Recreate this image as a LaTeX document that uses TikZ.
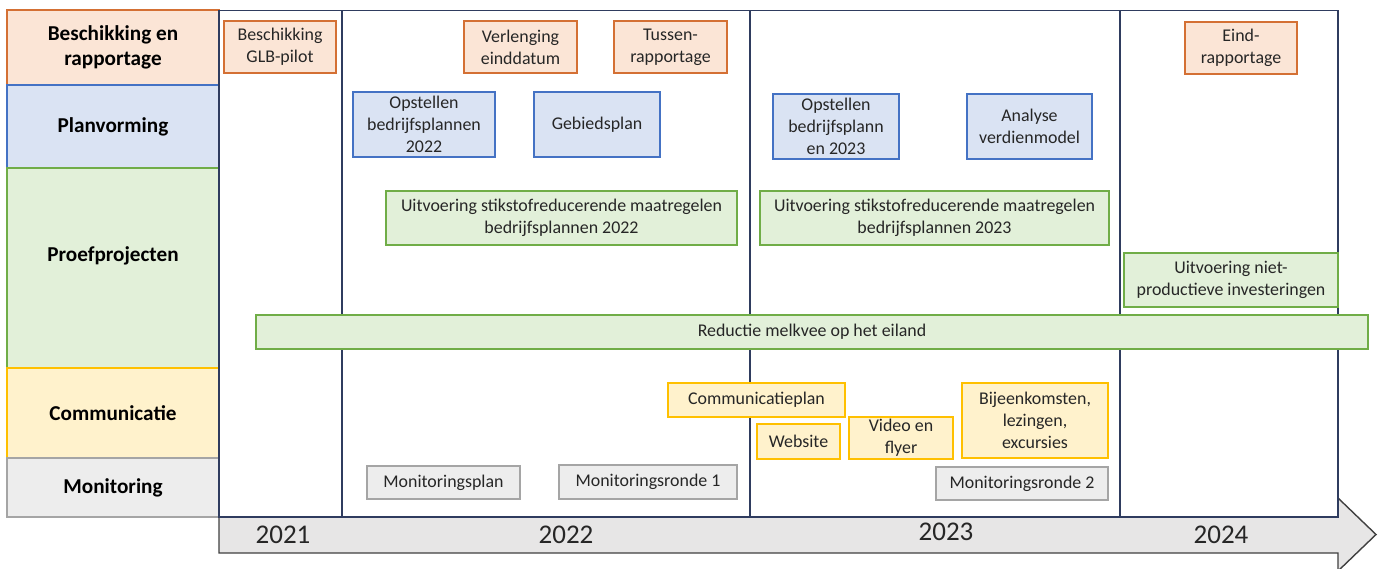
\documentclass[tikz,border=0pt]{standalone}
\usepackage{fontspec}
\setmainfont{Carlito}
\definecolor{orF}{HTML}{FBE5D6}
\definecolor{orD}{RGB}{212,112,52}
\definecolor{blF}{HTML}{DAE3F3}
\definecolor{blD}{HTML}{4472C4}
\definecolor{grF}{HTML}{E2F0D9}
\definecolor{grD}{HTML}{70AD47}
\definecolor{yeF}{HTML}{FFF2CC}
\definecolor{yeD}{HTML}{FFC000}
\definecolor{gyF}{HTML}{EDEDED}
\definecolor{gyD}{HTML}{A5A5A5}
\definecolor{navy}{RGB}{47,60,95}
\definecolor{arF}{HTML}{E7E6E6}
\definecolor{arD}{HTML}{404040}
\tikzset{
  box/.style={rectangle, line width=1.4pt, inner sep=0pt, align=center,
    font=\fontsize{17.9}{21.7}\selectfont, text=black!85},
  obox/.style={box, fill=orF, draw=orD},
  bbox/.style={box, fill=blF, draw=blD},
  gbox/.style={box, fill=grF, draw=grD},
  ybox/.style={box, fill=yeF, draw=yeD},
  mbox/.style={box, fill=gyF, draw=gyD},
  lab/.style={rectangle, line width=1.2pt, inner sep=0pt, align=center,
    minimum width=212pt, font=\bfseries\fontsize{21.2}{25.7}\selectfont},
  labtext/.style={inner sep=0pt, align=center, font=\bfseries\fontsize{21.2}{25.7}\selectfont},
  yr/.style={inner sep=0pt, font=\fontsize{27}{32}\selectfont, text=black!85},
}
\begin{document}
\begin{tikzpicture}[x=1pt,y=-1pt]
\useasboundingbox (0,0) rectangle (1381,568);
\clip (0,0) rectangle (1381,568);
\fill[white] (0,0) rectangle (1381,568);
% label column
\node[lab, fill=orF, draw=orD, minimum height=75pt] (l1) at (113,47.5) {Beschikking en\\rapportage};
\node[lab, fill=blF, draw=blD, minimum height=83pt] (l2) at (113,126.5) {Planvorming};
\node[lab, fill=grF, draw=grD, minimum height=200pt] (l3) at (113,268) {};
\node[labtext] (t3) at (113,256) {Proefprojecten};
\node[lab, fill=yeF, draw=yeD, minimum height=90pt] (l4) at (113,413) {Communicatie};
\node[lab, fill=gyF, draw=gyD, minimum height=59pt] (l5) at (113,487.5) {Monitoring};
% arrow
\draw[fill=arF, draw=arD, line width=1.4pt] (219,517) -- (1338,517) -- (1338,498) -- (1376,534.5) -- (1338,571) -- (1338,553) -- (219,553) -- cycle;
% frame
\draw[navy, line width=1.4pt, fill=white] (219,10.5) rectangle (1338,517);
\draw[navy, line width=1.4pt] (342,10.5) -- (342,517) (750,10.5) -- (750,517) (1120,10.5) -- (1120,517);
% years
\node[yr] (y1) at (283,535) {2021};
\node[yr] (y2) at (566,535) {2022};
\node[yr] (y3) at (946,532) {2023};
\node[yr] (y4) at (1221,535) {2024};
% orange
\node[obox, minimum width=112pt, minimum height=52pt] (b1) at (280,47) {Beschikking\\GLB-pilot};
\node[obox, minimum width=113pt, minimum height=52pt] (b2) at (520.5,47) {Verlenging\\einddatum};
\node[obox, minimum width=113pt, minimum height=52pt] (b3) at (670.5,47) {Tussen-\\rapportage};
\node[obox, minimum width=112pt, minimum height=52pt] (b4) at (1241,48) {Eind-\\rapportage};
% blue
\node[bbox, minimum width=142pt, minimum height=65pt] (p1) at (424,124.5) {Opstellen\\bedrijfsplannen\\2022};
\node[bbox, minimum width=126pt, minimum height=65pt] (p2) at (597,124.5) {Gebiedsplan};
\node[bbox, minimum width=126pt, minimum height=65pt] (p3) at (836,126.5) {Opstellen\\bedrijfsplann\\en 2023};
\node[bbox, minimum width=125pt, minimum height=65pt] (p4) at (1029.5,126.5) {Analyse\\verdienmodel};
% green
\node[gbox, minimum width=351pt, minimum height=54pt] (g1) at (561.5,218) {Uitvoering stikstofreducerende maatregelen\\bedrijfsplannen 2022};
\node[gbox, minimum width=349pt, minimum height=54pt] (g2) at (934.5,218) {Uitvoering stikstofreducerende maatregelen\\bedrijfsplannen 2023};
\node[gbox, minimum width=214pt, minimum height=54pt] (g3) at (1231,280) {Uitvoering niet-\\productieve investeringen};
\node[gbox, minimum width=1112pt, minimum height=34pt] (g4) at (812,332) {Reductie melkvee op het eiland};
% yellow
\node[ybox, minimum width=177pt, minimum height=34pt] (c1) at (756.5,400) {Communicatieplan};
\node[ybox, minimum width=83pt, minimum height=35pt] (c2) at (798.5,441.5) {Website};
\node[ybox, minimum width=104pt, minimum height=42pt] (c3) at (901,438) {Video en\\flyer};
\node[ybox, minimum width=146pt, minimum height=75pt] (c4) at (1035,420.5) {Bijeenkomsten,\\lezingen,\\excursies};
% gray
\node[mbox, minimum width=153pt, minimum height=33pt] (m1) at (443.5,482.5) {Monitoringsplan};
\node[mbox, minimum width=178pt, minimum height=34pt] (m2) at (648,482) {Monitoringsronde 1};
\node[mbox, minimum width=172pt, minimum height=33pt] (m3) at (1022,483.5) {Monitoringsronde 2};
\end{tikzpicture}
\end{document}
